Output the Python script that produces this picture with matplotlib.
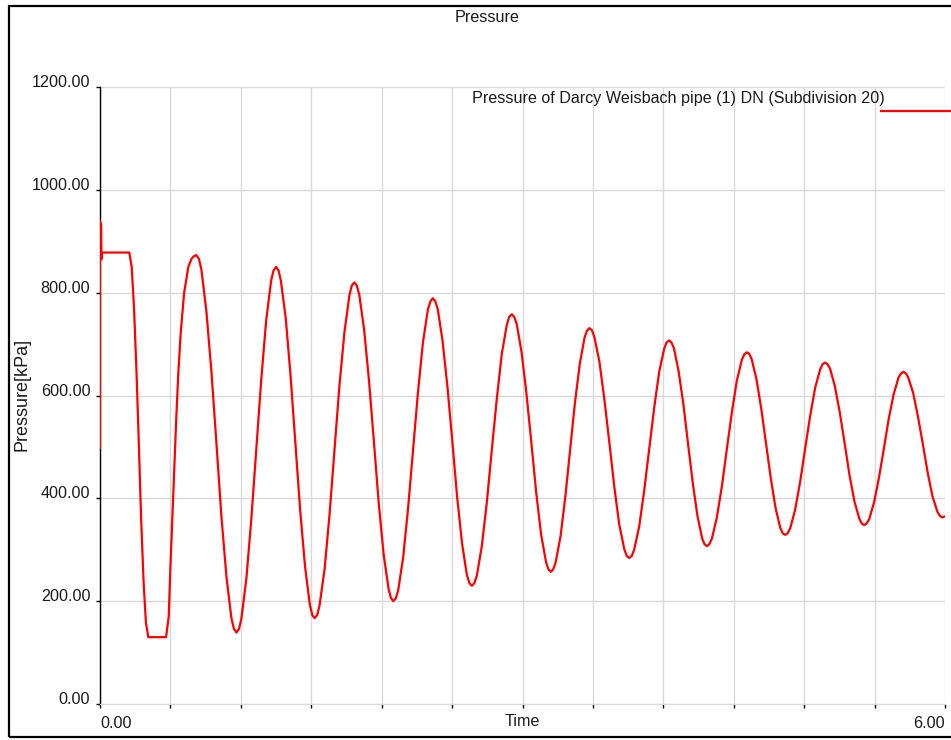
import matplotlib
matplotlib.use('Agg')
import matplotlib.pyplot as plt
from matplotlib.patches import Rectangle
from matplotlib.lines import Line2D

#====Data====
time_s = [0.000, 0.000, 0.008, 0.010, 0.014, 0.208, 0.225, 0.242, 0.259, 0.276,
          0.292, 0.309, 0.326, 0.343, 0.469, 0.488, 0.500, 0.514, 0.528, 0.542,
          0.556, 0.573, 0.597, 0.627, 0.650, 0.667, 0.684,
          0.702, 0.720, 0.755, 0.791, 0.827, 0.862, 0.898, 0.933, 0.951, 0.969,
          0.987, 1.004, 1.039, 1.074, 1.110, 1.145, 1.180, 1.215, 1.232, 1.250,
          1.267, 1.284, 1.319, 1.353, 1.387, 1.421, 1.456, 1.490, 1.507, 1.524,
          1.542, 1.559, 1.595, 1.630, 1.665, 1.700, 1.736, 1.771, 1.788, 1.806,
          1.823, 1.841, 1.875, 1.910, 1.945, 1.979, 2.014, 2.049, 2.066, 2.083,
          2.101, 2.118, 2.153, 2.188, 2.223, 2.258, 2.293, 2.328, 2.346, 2.363,
          2.380, 2.398, 2.432, 2.467, 2.502, 2.536, 2.571, 2.605, 2.623, 2.640,
          2.658, 2.676, 2.711, 2.747, 2.782, 2.818, 2.853, 2.889, 2.906, 2.924,
          2.941, 2.959, 2.993, 3.028, 3.063, 3.097, 3.132, 3.167, 3.184, 3.201,
          3.218, 3.235, 3.270, 3.304, 3.338, 3.372, 3.407, 3.441, 3.458, 3.475,
          3.493, 3.510, 3.546, 3.581, 3.617, 3.652, 3.687, 3.723, 3.740, 3.758,
          3.776, 3.793, 3.829, 3.864, 3.900, 3.935, 3.970, 4.006, 4.023, 4.041,
          4.058, 4.075, 4.108, 4.142, 4.175, 4.209, 4.242, 4.276, 4.292, 4.309,
          4.327, 4.345, 4.380, 4.416, 4.451, 4.487, 4.522, 4.558, 4.575, 4.593,
          4.610, 4.627, 4.661, 4.695, 4.729, 4.763, 4.797, 4.831, 4.848, 4.865,
          4.883, 4.901, 4.936, 4.972, 5.007, 5.043, 5.078, 5.114, 5.131, 5.149,
          5.166, 5.184, 5.218, 5.253, 5.288, 5.322, 5.357, 5.392, 5.409, 5.426,
          5.443, 5.461, 5.496, 5.531, 5.566, 5.600, 5.635, 5.670, 5.688, 5.705,
          5.722, 5.739, 5.774, 5.808, 5.843, 5.877, 5.911, 5.946, 5.963, 5.980,
          6.000]

pressure_kpa = [498, 940, 930, 865, 878, 878, 850, 768, 647, 504,
                361, 240, 158, 130, 130, 170, 267, 364, 461, 559,
                643, 721, 799, 850, 866, 871, 873,
                866, 845, 765, 647, 506, 365, 247, 167, 146, 139,
                146, 166, 243, 358, 495, 631, 746, 823, 843, 850,
                844, 824, 750, 639, 509, 378, 267, 193, 173, 167,
                173, 192, 263, 369, 494, 619, 724, 795, 814, 820,
                814, 796, 729, 629, 510, 391, 291, 224, 206, 200,
                206, 222, 286, 382, 494, 607, 703, 767, 783, 789,
                784, 768, 707, 617, 510, 402, 312, 251, 235, 230,
                235, 250, 307, 393, 494, 595, 681, 738, 753, 758,
                753, 739, 685, 604, 508, 412, 330, 276, 262, 257,
                262, 275, 326, 403, 494, 585, 662, 713, 726, 731,
                727, 714, 666, 593, 508, 422, 349, 301, 288, 284,
                288, 300, 346, 415, 496, 576, 645, 691, 703, 707,
                703, 692, 648, 584, 507, 430, 366, 322, 311, 307,
                311, 322, 363, 424, 496, 568, 629, 670, 680, 684,
                681, 671, 632, 575, 507, 439, 381, 342, 332, 329,
                332, 342, 378, 433, 497, 561, 615, 651, 661, 664,
                661, 652, 618, 567, 506, 445, 394, 360, 351, 348,
                351, 359, 392, 440, 497, 554, 602, 635, 643, 646,
                643, 635, 605, 559, 505, 450, 404, 374, 366, 363,
                365]

x_ticks = [0.0, 0.5, 1.0, 1.5, 2.0, 2.5, 3.0, 3.5, 4.0, 4.5, 5.0, 5.5, 6.0]
y_ticks = [0, 200, 400, 600, 800, 1000, 1200]
series_name = 'Pressure of Darcy Weisbach pipe (1) DN (Subdivision 20)'

#====Figure====
plt.rcParams['font.family'] = ['Liberation Sans', 'DejaVu Sans']
fs = 11.6
W, H = 951, 740
fig = plt.figure(figsize=(W/100, H/100), dpi=100, facecolor='white')
ax = fig.add_axes([100/W, 1-704/H, 845/W, 617/H])

grid_c = '#d9d9d9'
ax.plot(time_s, pressure_kpa, color='#ff0000', lw=1.6, zorder=3,
        solid_joinstyle='round', solid_capstyle='round')
ax.set_xlim(0, 6)
ax.set_ylim(0, 1200)
ax.set_xticks(x_ticks)
ax.set_yticks(y_ticks)
ax.grid(True, color=grid_c, lw=1.0)
ax.set_axisbelow(True)

xl = ['' for v in x_ticks]
xl[0] = '0.00'
xl[-1] = '6.00'
ax.set_xticklabels(xl, fontsize=fs)
labs = ax.get_xticklabels()
labs[0].set_ha('left')
labs[-1].set_ha('right')
ax.set_yticklabels(['%.2f' % v for v in y_ticks], fontsize=fs, va='baseline')
ax.tick_params(axis='x', length=3, width=1, color='black', pad=6, labelcolor='#1a1a1a')
ax.tick_params(axis='y', length=3, width=1, color='black', pad=4, labelcolor='#1a1a1a')

for s in ['top', 'right']:
    ax.spines[s].set_visible(False)
ax.spines['bottom'].set_color(grid_c)
ax.spines['left'].set_color('black')
ax.spines['left'].set_linewidth(1.0)

ax.set_xlabel('Time', fontsize=fs, color='#1a1a1a')
ax.xaxis.set_label_coords(0.5, -0.029)
ax.xaxis.label.set_va('center')
ax.set_ylabel('Pressure[kPa]', fontsize=13, color='#1a1a1a')
ax.yaxis.set_label_coords(-0.0923, 0.5016)
ax.yaxis.label.set_va('center')

# title and series label
fig.text(487.5/W, 1-17/H, 'Pressure', ha='center', va='center', fontsize=fs, color='#1a1a1a')
fig.text(472/W, 1-99/H, series_name, ha='left', va='center', fontsize=fs, color='#1a1a1a')
fig.add_artist(Line2D([881/W, 1.0], [1-111/H, 1-111/H], color='#ff0000', lw=1.6))

# outer frame
fig.add_artist(Rectangle((9/W, 3/H), 1.1, 1-9/H, fill=False, ec='black', lw=1.6,
                         transform=fig.transFigure))

plt.savefig('out.png', dpi=100)
